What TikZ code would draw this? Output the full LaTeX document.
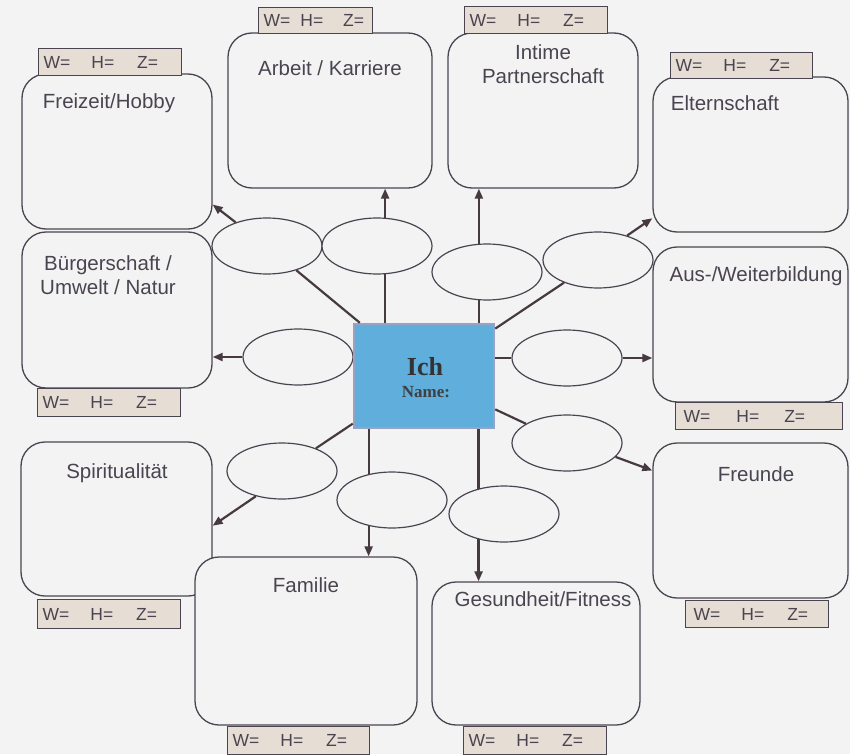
\documentclass[tikz,border=0pt]{standalone}
\usepackage{fontspec}
\setmainfont{Liberation Sans}
\newfontfamily\serifbold{Liberation Serif}
\usetikzlibrary{arrows.meta,shapes.geometric}
\definecolor{bg}{HTML}{F3F3F3}
\definecolor{ink}{HTML}{4A4450}
\definecolor{linec}{HTML}{463A40}
\definecolor{tagfill}{HTML}{E6DED4}
\definecolor{centerfill}{HTML}{5FAEDC}
\definecolor{centerdraw}{HTML}{98A2C4}
\begin{document}
\begin{tikzpicture}[x=1pt,y=-1pt,
  box/.style={draw=ink, line width=1.3pt, rounded corners=24pt, fill=bg, inner sep=0pt},
  tag/.style={draw=ink, line width=1.3pt, fill=tagfill, inner xsep=5pt, inner ysep=0pt,
    minimum height=27pt, anchor=north west, text width=#1, align=left, text=ink,
    font=\fontsize{17.5}{17.5}\selectfont},
  lbl/.style={text=ink, font=\fontsize{20.5}{24}\selectfont, align=center, inner sep=0pt},
  ell/.style={ellipse, draw=ink, line width=1.2pt, fill=bg, minimum width=110pt,
    minimum height=56pt, inner sep=0pt},
  ln/.style={draw=linec, line width=2.2pt},
  arr/.style={draw=linec, line width=2.2pt, -{Triangle[length=10pt,width=8pt]}}
]
\useasboundingbox (0,0) rectangle (850,754);
\fill[bg] (0,0) rectangle (850,754);

% boxes
\node[box, minimum width=190pt, minimum height=155pt] (freizeit) at (117,151.5) {};
\node[box, minimum width=190pt, minimum height=156pt] (buerger) at (117,310) {};
\node[box, minimum width=191pt, minimum height=154pt] (spirit) at (116.5,519) {};
\node[box, minimum width=222pt, minimum height=168pt] (familie) at (306,641) {};
\node[box, minimum width=208pt, minimum height=143pt] (gesund) at (536,653.5) {};
\node[box, minimum width=195pt, minimum height=155pt] (freunde) at (750.5,520.5) {};
\node[box, minimum width=195pt, minimum height=155pt] (aus) at (750.5,324.5) {};
\node[box, minimum width=195pt, minimum height=155pt] (eltern) at (750.5,154.5) {};
\node[box, minimum width=190pt, minimum height=155pt] (intime) at (543,110.5) {};
\node[box, minimum width=204pt, minimum height=155pt] (arbeit) at (330,110.5) {};

% box titles
\node[lbl] (freizeit-t) at (109,103) {Freizeit/Hobby};
\node[lbl] (buerger-t) at (108,275) {Bürgerschaft /\\Umwelt / Natur};
\node[lbl] (spirit-t) at (117,473) {Spiritualität};
\node[lbl] (familie-t) at (306,585) {Familie};
\node[lbl] (gesund-t) at (543,599) {Gesundheit/Fitness};
\node[lbl] (freunde-t) at (756,474) {Freunde};
\node[lbl] (aus-t) at (756,276) {Aus-/Weiterbildung};
\node[lbl] (eltern-t) at (725,103) {Elternschaft};
\node[lbl] (intime-t) at (543,64) {Intime\\Partnerschaft};
\node[lbl] (arbeit-t) at (330,68) {Arbeit / Karriere};

% W H Z tags
\newcommand{\whz}{W=\hspace{21pt}H=\hspace{23pt}Z=}
\node[tag=133pt] (freizeit-g) at (38,48) {\whz};
\node[tag=104pt, minimum height=26pt] (arbeit-g) at (258,7) {W=\hspace{10pt}H=\hspace{20pt}Z=};
\node[tag=133pt] (intime-g) at (464,6) {\whz};
\node[tag=132pt, minimum height=26pt] (eltern-g) at (670,52) {\whz};
\node[tag=133pt, minimum height=28pt] (buerger-g) at (37,388) {\whz};
\node[tag=157pt] (aus-g) at (675,402) {\hspace{3pt}W=\hspace{26pt}H=\hspace{25pt}Z=};
\node[tag=133pt, minimum height=29pt] (spirit-g) at (37,599) {\whz};
\node[tag=132pt, minimum height=28pt] (familie-g) at (227,726) {\whz};
\node[tag=133pt, minimum height=28pt] (gesund-g) at (463,726) {\whz};
\node[tag=133pt] (freunde-g) at (685,600) {\hspace{3pt}\whz};

% ellipses
\node[ell] (e1) at (267,246) {};
\node[ell] (e2) at (377,246) {};
\node[ell] (e3) at (487,272) {};
\node[ell] (e4) at (598,260) {};
\node[ell] (e5) at (567,358) {};
\node[ell] (e6) at (567,443) {};
\node[ell] (e7) at (504,514) {};
\node[ell] (e8) at (392,500) {};
\node[ell] (e9) at (282,471) {};
\node[ell] (e10) at (298,357) {};

% center
\node[draw=centerdraw, line width=2.5pt, fill=centerfill, minimum width=140pt,
  minimum height=104pt, inner sep=0pt] (c) at (424,376) {};
\node[text=black!80, font=\serifbold\bfseries\fontsize{26}{28}\selectfont, inner sep=0pt] (ich) at (425,367) {Ich};
\node[text=black!75, font=\serifbold\bfseries\fontsize{17}{18}\selectfont, inner sep=0pt] (nm) at (426,392) {Name:};

% connectors
\draw[ln] (c) -- (e1);
\draw[arr] (e1.143) -- (freizeit.-29.4);
\draw[ln] (c.north -| e2.286) -- (e2.286);
\draw[arr] (e2.74) -- (e2.74 |- arbeit.south);
\draw[ln] (c.north -| e3.254) -- (e3.254);
\draw[arr] (e3.106) -- (e3.106 |- intime.south);
\draw[ln] (c) -- (e4);
\draw[arr] (e4.40) -- (eltern.213.1);
\draw[ln] (c.east |- e5.west) -- (e5.west);
\draw[arr] (e5.east) -- (e5.east -| aus.west);
\draw[ln] (c) -- (e6);
\draw[arr] (e6.-16) -- (freunde.153.6);
\draw[ln] (c.south -| e7.135) -- (e7.135);
\draw[arr] (e7.225) -- (e7.225 |- gesund.north);
\draw[ln] (c.south -| e8.132) -- (e8.132);
\draw[arr] (e8.228) -- (e8.228 |- familie.north);
\draw[ln] (c) -- (e9);
\draw[arr] (e9.224) -- (spirit.-4.8);
\draw[arr] (e10.west) -- (e10.west -| buerger.east);
\end{tikzpicture}
\end{document}
